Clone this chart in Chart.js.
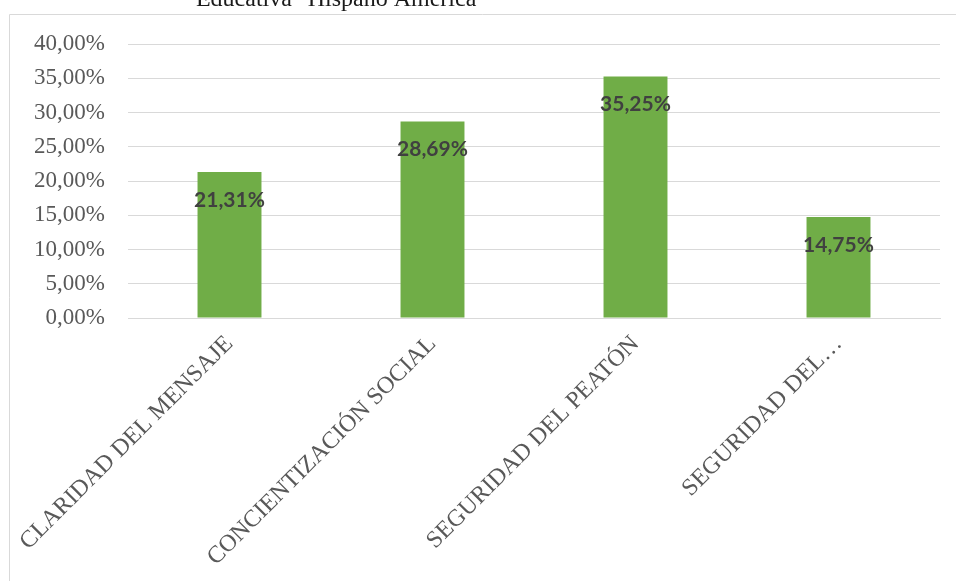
<!DOCTYPE html>
<html lang="es">
<head>
<meta charset="utf-8">
<title>Gráfico de barras</title>
<script src="https://cdn.jsdelivr.net/npm/chart.js@4.4.1/dist/chart.umd.min.js"></script>
<style>
  html, body { margin: 0; padding: 0; background: #fff; overflow: hidden; }
  #wrap { position: relative; width: 956px; height: 581px; }
</style>
</head>
<body>
<div id="wrap"><canvas id="barras" width="956" height="581"></canvas></div>
<script>
const categorias = ['CLARIDAD DEL MENSAJE', 'CONCIENTIZACIÓN SOCIAL', 'SEGURIDAD DEL PEATÓN', 'SEGURIDAD DEL…']
const porcentajes = [21.31, 28.69, 35.25, 14.75]
const titulo = 'Educativa "Hispano América"'

const numberFormat = Intl.NumberFormat('es-ES', { minimumFractionDigits: 2, maximumFractionDigits: 2 })
const pct = v => numberFormat.format(v) + '%'

const barras = document.getElementById('barras')

// marco del gráfico y título (solo asoma la última línea)
const marco = {
    id: 'marco',
    beforeDraw(chart) {
        const ctx = chart.ctx
        ctx.save()
        ctx.strokeStyle = '#d9d9d9'
        ctx.lineWidth = 1
        ctx.beginPath()
        ctx.moveTo(9.5, chart.height)
        ctx.lineTo(9.5, 14.5)
        ctx.lineTo(chart.width, 14.5)
        ctx.stroke()
        ctx.fillStyle = '#1a1a1a'
        ctx.font = '24px "Liberation Serif"'
        ctx.textAlign = 'center'
        ctx.textBaseline = 'alphabetic'
        ctx.fillText(titulo, 341, 6)
        ctx.restore()
    }
}

// etiquetas de valor dentro del extremo de cada barra
const etiquetas = {
    id: 'etiquetas',
    afterDatasetsDraw(chart) {
        const ctx = chart.ctx
        const meta = chart.getDatasetMeta(0)
        ctx.save()
        ctx.fillStyle = '#404040'
        ctx.font = 'bold 21px Lato'
        ctx.textAlign = 'center'
        ctx.textBaseline = 'middle'
        meta.data.forEach((bar, i) => {
            ctx.fillText(pct(porcentajes[i]), bar.x, bar.y + 28)
        })
        ctx.restore()
    }
}

new Chart(barras, {
    type: 'bar',
    data: {
        labels: categorias,
        datasets: [{
            data: porcentajes,
            backgroundColor: '#70ad47',
            barPercentage: 0.315,
            categoryPercentage: 1
        }]
    },
    options: {
        responsive: false,
        animation: false,
        layout: { padding: { left: 10, right: 16, top: 44, bottom: 0 } },
        plugins: {
            legend: { display: false },
            tooltip: { enabled: false }
        },
        scales: {
            y: {
                min: 0,
                max: 40,
                ticks: {
                    stepSize: 5,
                    padding: 23,
                    color: '#595959',
                    font: { family: '"Liberation Serif"', size: 23 },
                    callback: v => pct(v)
                },
                grid: { color: '#d9d9d9', drawTicks: false },
                border: { display: false },
                afterFit(scale) { scale.width = 118 }
            },
            x: {
                ticks: {
                    minRotation: 45,
                    maxRotation: 45,
                    autoSkip: false,
                    padding: 4,
                    color: '#595959',
                    font: { family: '"Liberation Serif"', size: 24 }
                },
                grid: { display: false },
                border: { color: '#d9d9d9' },
                afterFit(scale) { scale.height = 263 }
            }
        }
    },
    plugins: [marco, etiquetas]
})
</script>
</body>
</html>
